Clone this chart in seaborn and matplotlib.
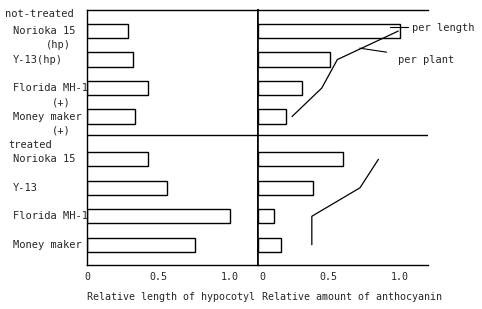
import matplotlib
matplotlib.use("Agg")
import matplotlib.pyplot as plt
import matplotlib.transforms as mtransforms
import seaborn as sns
import pandas as pd

# ---- data ----
cultivars = ["Norioka 15", "Y-13", "Florida MH-1", "Money maker"]
nt_labels = ["Norioka 15", "Y-13(hp)", "Florida MH-1", "Money maker"]
nt_sublabels = ["(hp)", "", "(+)", "(+)"]
t_labels = ["Norioka 15", "Y-13", "Florida MH-1", "Money maker"]
groups = ["not-treated", "treated"]

hypocotyl_nt = [0.29, 0.32, 0.43, 0.34]
hypocotyl_t = [0.43, 0.56, 1.00, 0.76]
per_length_nt = [1.00, 0.51, 0.31, 0.20]
per_length_t = [0.60, 0.39, 0.11, 0.16]
per_plant_nt = [0.99, 0.56, 0.45, 0.24]
per_plant_t = [0.85, 0.72, 0.38, 0.38]

xticks = [0, 0.5, 1.0]
xtick_labels = ["0", "0.5", "1.0"]
xlabel_left = "Relative length of hypocotyl"
xlabel_right = "Relative amount of anthocyanin"

# row positions: four rows per group, half-row gap between groups
pos_nt = [0, 1, 2, 3]
pos_t = [4.5, 5.5, 6.5, 7.5]

df = pd.DataFrame({
    "pos": pos_nt + pos_t,
    "hyp": hypocotyl_nt + hypocotyl_t,
    "plen": per_length_nt + per_length_t,
})

sns.set_style("white")
plt.rcParams["font.family"] = ["DejaVu Sans Mono"]
FS = 7.5

W, H = 482, 309
fig = plt.figure(figsize=(W / 100, H / 100), dpi=100)
bottom = 1 - 265 / H
height = (265 - 10) / H
axL = fig.add_axes([87 / W, bottom, 171 / W, height])
axR = fig.add_axes([258 / W, bottom, 170 / W, height])

bar_kw = dict(orient="h", native_scale=True, width=0.5, color="white",
              edgecolor="black", linewidth=1.0, saturation=1, errorbar=None)
sns.barplot(data=df, x="hyp", y="pos", ax=axL, **bar_kw)
sns.barplot(data=df, x="plen", y="pos", ax=axR, **bar_kw)

sns.lineplot(x=per_plant_nt, y=pos_nt, sort=False, estimator=None,
             color="black", lw=0.9, ax=axR)
sns.lineplot(x=per_plant_t, y=pos_t, sort=False, estimator=None,
             color="black", lw=0.9, ax=axR)

ylim = (8.21, -0.74)
divider = 3.65
for ax in (axL, axR):
    ax.set_ylim(*ylim)
    ax.set_xlim(0, 1.2)
    ax.set_yticks([])
    ax.set_xticks(xticks)
    ax.set_xticklabels(xtick_labels, fontsize=7.2)
    ax.tick_params(axis="x", length=0, pad=5)
    ax.set_ylabel("")
    ax.axhline(divider, color="black", lw=1.0)
    for s in ax.spines.values():
        s.set_color("black")
        s.set_linewidth(1.0)

axR.spines["right"].set_visible(False)
axL.spines["right"].set_linewidth(1.2)
axR.spines["left"].set_linewidth(1.2)

# shift right-panel "0" slightly right, as in the original
lab0 = axR.get_xticklabels()[0]
lab0.set_transform(lab0.get_transform() +
                   mtransforms.ScaledTranslation(4 / 100, 0, fig.dpi_scale_trans))

axL.set_xlabel(xlabel_left, fontsize=7.2, ha="left")
axR.set_xlabel(xlabel_right, fontsize=7.2, ha="left")
axL.xaxis.set_label_coords(0.0, -0.105)
axR.xaxis.set_label_coords(4 / 170, -0.105)

# row labels
lx = 13 / W
for lab, sub, p in zip(nt_labels, nt_sublabels, pos_nt):
    axL.annotate(lab, xy=(lx, p), xycoords=("figure fraction", "data"),
                 ha="left", va="center", fontsize=FS)
    if sub:
        axL.annotate(sub, xy=(71 / W, p), xycoords=("figure fraction", "data"),
                     xytext=(0, -14), textcoords="offset pixels",
                     ha="right", va="center", fontsize=FS)
for lab, p in zip(t_labels, pos_t):
    axL.annotate(lab, xy=(lx, p), xycoords=("figure fraction", "data"),
                 ha="left", va="center", fontsize=FS)

axL.annotate(groups[0], xy=(5 / W, -0.6), xycoords=("figure fraction", "data"),
             ha="left", va="center", fontsize=FS)
axL.annotate(groups[1], xy=(8 / W, 4.0), xycoords=("figure fraction", "data"),
             ha="left", va="center", fontsize=FS)

# legend-like labels with leader lines
axR.plot([0.93, 1.056], [-0.14, -0.14], color="black", lw=0.8, clip_on=False)
axR.text(1.085, -0.1, "per length", ha="left", va="center", fontsize=FS)
axR.plot([0.718, 0.908], [0.6, 0.74], color="black", lw=0.8, clip_on=False)
axR.text(0.986, 1.02, "per plant", ha="left", va="center", fontsize=FS)

fig.savefig("out.png", dpi=100)
